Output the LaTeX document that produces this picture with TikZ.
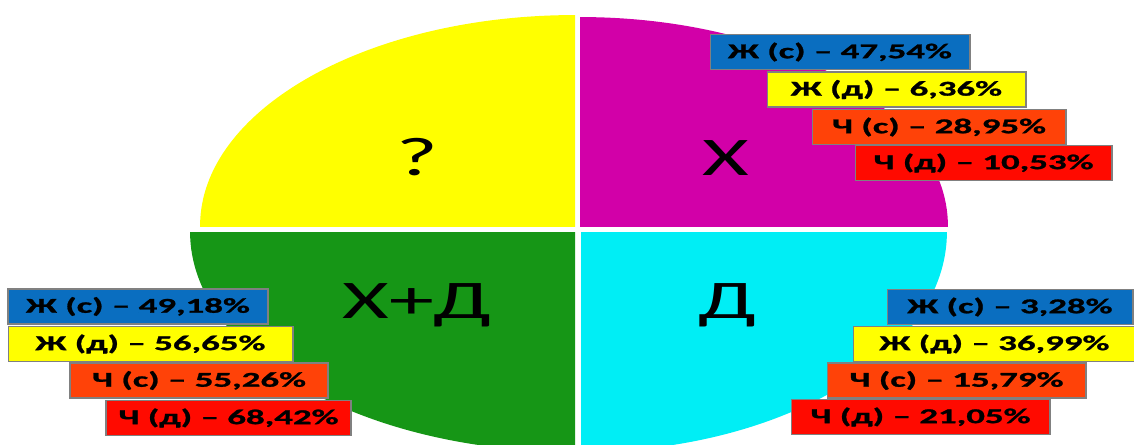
\documentclass[tikz,border=0pt]{standalone}
\usepackage{fontspec}
\setmainfont{Carlito}
\newfontfamily\lblfont[FakeStretch=1.75,FakeBold=1.2]{Carlito}
\newfontfamily\bigfont[FakeStretch=1.65]{Carlito}
\usepackage{xcolor}
\usepackage{tikz}

\definecolor{qyellow}{HTML}{FFFF00}
\definecolor{qmagenta}{HTML}{D200A8}
\definecolor{qgreen}{HTML}{169616}
\definecolor{qcyan}{HTML}{00EEF5}
\definecolor{bblue}{HTML}{0A6EC0}
\definecolor{byellow}{HTML}{FFFF00}
\definecolor{borange}{HTML}{FF4208}
\definecolor{bred}{HTML}{FF0A00}

\begin{document}
\begin{tikzpicture}[x=0.02cm, y=-0.02cm,
    lbl/.style={draw=black!50, line width=0.6pt, inner sep=0pt, minimum height=0.7cm,
      font=\lblfont\bfseries\fontsize{12}{14}\selectfont},
    big/.style={anchor=base, font=\bigfont\fontsize{31}{36}\selectfont}]
    \useasboundingbox (0,0) rectangle (1134,444);
    % Quadrants
    \begin{scope}
      \clip (0,0) rectangle (575,226);
      \fill[qyellow] (575,226) ellipse [x radius=7.5cm, y radius=4.22cm];
    \end{scope}
    \begin{scope}
      \clip (580,0) rectangle (1134,226);
      \fill[qmagenta] (580,226) ellipse [x radius=7.36cm, y radius=4.18cm];
    \end{scope}
    \begin{scope}
      \clip (0,232) rectangle (575,444);
      \fill[qgreen] (575,232) ellipse [x radius=7.7cm, y radius=4.4cm];
    \end{scope}
    \begin{scope}
      \clip (581,232) rectangle (1134,444);
      \fill[qcyan] (581,232) ellipse [x radius=7.32cm, y radius=4.4cm];
    \end{scope}
    \node[big] (q)  at (417,175) {?};
    \node[big] (x)  at (726,175) {Х};
    \node[big] (xd) at (417,318) {Х+Д};
    \node[big] (d)  at (727,318) {Д};
    % X
    \node[lbl, fill=bblue,   minimum width=5.2cm]  (x1) at (840,52)    {Ж (с) – 47,54\%};
    \node[lbl, fill=byellow, minimum width=5.18cm] (x2) at (896.5,89.5) {Ж (д) – 6,36\%};
    \node[lbl, fill=borange, minimum width=5.08cm] (x3) at (939,127)   {Ч (с) – 28,95\%};
    \node[lbl, fill=bred,    minimum width=5.14cm] (x4) at (983.5,163) {Ч (д) – 10,53\%};
    % X+D
    \node[lbl, fill=bblue,   minimum width=5.2cm]  (xd1) at (138,306.5)  {Ж (с) – 49,18\%};
    \node[lbl, fill=byellow, minimum width=5.7cm]  (xd2) at (150.5,344)  {Ж (д) – 56,65\%};
    \node[lbl, fill=borange, minimum width=5.16cm] (xd3) at (199,380.5)  {Ч (с) – 55,26\%};
    \node[lbl, fill=bred,    minimum width=4.9cm]  (xd4) at (228.5,418)  {Ч (д) – 68,42\%};
    % D
    \node[lbl, fill=bblue,   minimum width=4.92cm] (d1) at (1010,307)   {Ж (с) – 3,28\%};
    \node[lbl, fill=byellow, minimum width=5.66cm] (d2) at (994.5,344)  {Ж (д) – 36,99\%};
    \node[lbl, fill=borange, minimum width=5.18cm] (d3) at (956.5,380.5) {Ч (с) – 15,79\%};
    \node[lbl, fill=bred,    minimum width=5.18cm] (d4) at (920.5,417)  {Ч (д) – 21,05\%};
\end{tikzpicture}
\end{document}
